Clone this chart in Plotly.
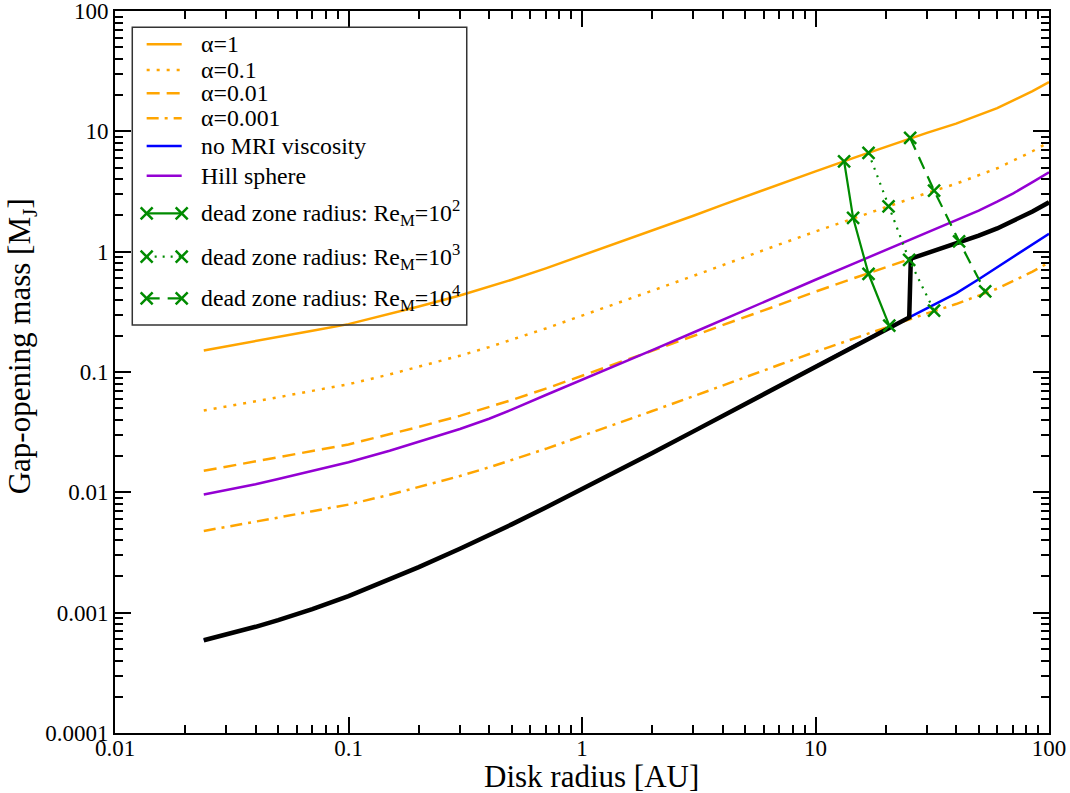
import plotly.graph_objects as go

# radio del disco [AU]
r = [0.024, 0.03, 0.04, 0.05, 0.07, 0.1, 0.15, 0.2, 0.3, 0.4, 0.5, 0.7, 1, 1.5, 2,
     3, 4, 5, 7, 10, 15, 20, 25, 30, 40, 50, 60, 70, 85, 100]

# masa de apertura de gap [M_J]
m_alpha1 = [0.151, 0.163, 0.180, 0.195, 0.2205, 0.25, 0.302, 0.35, 0.432, 0.51, 0.585, 0.727,
            0.93, 1.22, 1.50, 1.99, 2.45, 2.87, 3.63, 4.65, 6.13, 7.45, 8.6, 9.7, 11.6, 13.6,
            15.6, 18.0, 21.6, 25.7]
m_alpha01 = [0.0478, 0.0515, 0.0569, 0.0617, 0.0697, 0.0791, 0.0955, 0.1107, 0.1366, 0.161,
             0.185, 0.230, 0.294, 0.386, 0.474, 0.629, 0.775, 0.908, 1.148, 1.471, 1.94, 2.36,
             2.72, 3.07, 3.67, 4.30, 4.93, 5.69, 6.83, 8.13]
m_alpha001 = [0.0151, 0.0163, 0.0180, 0.0195, 0.02205, 0.025, 0.0302, 0.035, 0.0432, 0.051,
              0.0585, 0.0727, 0.093, 0.122, 0.150, 0.199, 0.245, 0.287, 0.363, 0.465, 0.613,
              0.745, 0.86, 0.97, 1.16, 1.36, 1.56, 1.80, 2.16, 2.57]
m_alpha0001 = [0.00478, 0.00515, 0.00569, 0.00617, 0.00697, 0.00791, 0.00955, 0.01107, 0.01366,
               0.01613, 0.0185, 0.0230, 0.0294, 0.0386, 0.0474, 0.0629, 0.0775, 0.0908, 0.1148,
               0.1471, 0.1939, 0.2356, 0.272, 0.307, 0.367, 0.430, 0.493, 0.569, 0.683, 0.813]
m_hill = [0.0096, 0.01045, 0.01166, 0.0129, 0.01503, 0.0178, 0.02216, 0.02624, 0.0336, 0.0409,
          0.0487, 0.0644, 0.086, 0.120, 0.152, 0.213, 0.272, 0.327, 0.433, 0.584, 0.815, 1.031,
          1.236, 1.431, 1.80, 2.19, 2.60, 3.04, 3.78, 4.56]

# sin viscosidad MRI
r_nomri = [0.024, 0.03, 0.04, 0.05, 0.07, 0.1, 0.15, 0.2, 0.3, 0.4, 0.5, 0.7, 1, 1.5, 2,
           3, 4, 5, 7, 10, 15, 20, 25.2, 30, 40, 50, 60, 70, 85, 100]
m_nomri = [0.00059, 0.000657, 0.000763, 0.000867, 0.001068, 0.001371, 0.00188, 0.00239,
           0.0034, 0.0044, 0.00542, 0.00749, 0.01062, 0.01593, 0.02124, 0.0321, 0.0432,
           0.0545, 0.0773, 0.1116, 0.1696, 0.2261, 0.2842, 0.34, 0.45, 0.59, 0.74, 0.90,
           1.14, 1.41]

# curva negra: zona muerta hasta 25.2 AU, despues zona activa
r_active = [25.6, 30, 40, 50, 60, 70, 85, 100]
m_active = [0.875, 0.97, 1.16, 1.36, 1.56, 1.80, 2.16, 2.57]
n_dead = 23  # puntos de r_nomri dentro de la zona muerta

# radio de zona muerta
dz2_r = [13.26, 14.49, 16.87, 20.7]
dz2_m = [5.64, 1.91, 0.655, 0.243]
dz3_r = [16.87, 20.55, 25.18, 32.2]
dz3_m = [6.62, 2.38, 0.855, 0.324]
dz4_r = [25.43, 32.2, 41.2, 53.3]
dz4_m = [8.81, 3.22, 1.22, 0.467]

ORANGE = "#FFA500"
BLUE = "#0000FF"
VIOLET = "#9400D3"
GREEN = "#008B00"
FONT = "Liberation Serif, Times New Roman, serif"

dots = "3px,7px"
dashes = "13px,7px"
dashdot = "12px,6px,3px,6px"
gdots = "2px,6px"
gdashes = "13px,8px"

fig = go.Figure()

def add_line(x, y, color, width, dash="solid"):
    fig.add_trace(go.Scatter(x=x, y=y, mode="lines", showlegend=False, hoverinfo="skip",
                             line=dict(color=color, width=width, dash=dash)))

add_line(r, m_alpha1, ORANGE, 2.5)
add_line(r, m_alpha01, ORANGE, 2.5, dots)
add_line(r, m_alpha001, ORANGE, 2.5, dashes)
add_line(r, m_alpha0001, ORANGE, 2.5, dashdot)
add_line(r, m_hill, VIOLET, 2.5)
add_line(r_nomri, m_nomri, BLUE, 2.5)
add_line(r_nomri[:n_dead] + r_active, m_nomri[:n_dead] + m_active, "black", 4.5)

for xr, ym, dsh in [(dz2_r, dz2_m, "solid"), (dz3_r, dz3_m, gdots), (dz4_r, dz4_m, gdashes)]:
    fig.add_trace(go.Scatter(x=xr, y=ym, mode="lines+markers", showlegend=False,
                             line=dict(color=GREEN, width=2.2, dash=dsh),
                             marker=dict(symbol="x-thin", size=12,
                                         line=dict(color=GREEN, width=2.5))))

# leyenda dibujada a mano (ejes auxiliares 0-1)
leg_rows = [0.9539, 0.9183, 0.8860, 0.8514, 0.8130, 0.7719, 0.7198, 0.6597, 0.6021]
leg_x0, leg_x1, leg_tx = 0.0339, 0.0714, 0.0899
leg_items = [
    ("α=1", ORANGE, "solid", False),
    ("α=0.1", ORANGE, dots, False),
    ("α=0.01", ORANGE, dashes, False),
    ("α=0.001", ORANGE, dashdot, False),
    ("no MRI viscosity", BLUE, "solid", False),
    ("Hill sphere", VIOLET, "solid", False),
    ("dead zone radius: Re<sub>M</sub>=10<sup>2</sup>", GREEN, "solid", True),
    ("dead zone radius: Re<sub>M</sub>=10<sup>3</sup>", GREEN, gdots, True),
    ("dead zone radius: Re<sub>M</sub>=10<sup>4</sup>", GREEN, gdashes, True),
]
annotations = []
for (txt, col, dsh, mk), yy in zip(leg_items, leg_rows):
    fig.add_trace(go.Scatter(
        x=[leg_x0, leg_x1], y=[yy, yy], xaxis="x2", yaxis="y2",
        mode="lines+markers" if mk else "lines", showlegend=False, hoverinfo="skip",
        line=dict(color=col, width=2.2 if mk else 2.5, dash=dsh),
        marker=dict(symbol="x-thin", size=12, line=dict(color=col, width=2.5))))
    annotations.append(dict(text=txt, x=leg_tx, y=yy, xref="paper", yref="paper",
                            xanchor="left", yanchor="middle", showarrow=False,
                            font=dict(family=FONT, size=23.8, color="black")))

annotations.append(dict(text="Disk radius [AU]", x=0.5104, y=-0.0600, xref="paper",
                        yref="paper", xanchor="center", yanchor="middle", showarrow=False,
                        font=dict(family=FONT, size=31, color="black")))
annotations.append(dict(text="Gap-opening mass [M<sub>J</sub>]", x=-0.0999, y=0.5352,
                        xref="paper", yref="paper", xanchor="center", yanchor="middle",
                        textangle=-90, showarrow=False,
                        font=dict(family=FONT, size=31, color="black")))

minor_x = [k * 10 ** e for e in range(-2, 2) for k in range(2, 10)]
minor_y = [k * 10 ** e for e in range(-4, 2) for k in range(2, 10)]

axis_common = dict(type="log", showline=True, linecolor="black", linewidth=2,
                   mirror="ticks", ticks="inside", ticklen=16, tickwidth=1.5,
                   tickcolor="black", showgrid=False, zeroline=False, automargin=False,
                   ticklabeloverflow="allow",
                   tickfont=dict(family=FONT, size=23, color="black"))

fig.update_layout(
    width=1070, height=793,
    margin=dict(l=115, r=21, t=11, b=60),
    paper_bgcolor="white", plot_bgcolor="white",
    showlegend=False,
    xaxis=dict(range=[-2, 2], tickvals=[0.01, 0.1, 1, 10, 100],
               ticktext=["0.01", "0.1", "1", "10", "100"], ticklabelstandoff=-7,
               minor=dict(tickvals=minor_x, ticks="inside", ticklen=8, tickwidth=1.5,
                          tickcolor="black", showgrid=False),
               **axis_common),
    yaxis=dict(range=[-4, 2], tickvals=[0.0001, 0.001, 0.01, 0.1, 1, 10, 100],
               ticktext=["0.0001", "0.001", "0.01", "0.1", "1", "10", "100"],
               minor=dict(tickvals=minor_y, ticks="inside", ticklen=8, tickwidth=1.5,
                          tickcolor="black", showgrid=False),
               **axis_common),
    xaxis2=dict(overlaying="x", range=[0, 1], visible=False),
    yaxis2=dict(overlaying="y", range=[0, 1], visible=False),
    shapes=[dict(type="rect", xref="paper", yref="paper", x0=0.0185, x1=0.3766,
                 y0=0.5651, y1=0.9774, line=dict(color="#333333", width=1.5))],
    annotations=annotations,
)

# sin margen del body para que la figura ocupe la ventana exacta
fig.write_html("out.html", config={"displayModeBar": False},
               post_script="document.body.style.margin = '0px';")
